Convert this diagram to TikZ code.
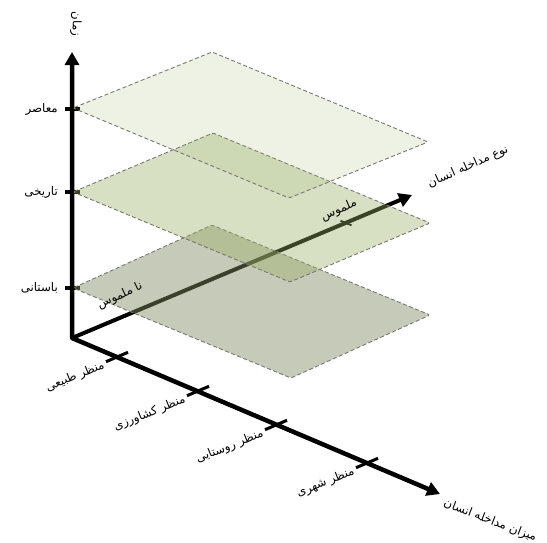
\documentclass[tikz,border=0pt]{standalone}
\usepackage{fontspec}
\newfontfamily\arabicfont[Script=Arabic]{DejaVu Sans}
\TeXXeTstate=1
\usetikzlibrary{arrows.meta,calc}
\definecolor{planegreen}{RGB}{154,175,102}
\definecolor{planegrey}{RGB}{130,140,100}
\definecolor{edgegrey}{RGB}{120,120,115}
\tikzset{bigtip/.tip={Triangle[length=13pt,width=14pt]}}
\begin{document}
\begin{tikzpicture}[x=1pt,y=-1pt,
  axisline/.style={line width=4.5pt, black, line join=round},
  tickv/.style={line width=4pt, black},
  tickb/.style={line width=3pt, black},
  tickd/.style={line width=1.8pt, black},
  plane/.style={draw=edgegrey, dash pattern=on 4pt off 2.5pt, line width=0.9pt, rounded corners=1.5pt},
  lbl/.style={font=\arabicfont\fontsize{11.8}{13}\selectfont, inner sep=0pt, text=black}
]
\useasboundingbox (0,0) rectangle (547,542);
% axes
\coordinate (O) at (72,338);
\coordinate (Z) at (72,52);
\coordinate (D) at (412,195);
\coordinate (X) at (440,494);
\draw[axisline, bigtip-bigtip] (Z) -- (O) -- (X);
\draw[axisline, line width=4pt, -bigtip] (O) -- (D);
% vertical ticks
\coordinate (v1) at (72,109);
\coordinate (v2) at (72,192);
\coordinate (v3) at (72,288);
\foreach \v in {v1,v2,v3} \draw[tickv] ($(\v)+(-7,0)$) -- ($(\v)+(8,0)$);
% bottom axis ticks
\coordinate (b1) at (117,357);
\coordinate (b2) at (198,391);
\coordinate (b3) at (276,425);
\coordinate (b4) at (367,463);
\foreach \b in {b1,b2,b3,b4} \draw[tickb] ($(\b)+(-11,4.7)$) -- ($(\b)+(11,-4.7)$);
% depth axis tick
\coordinate (d1) at (346,223);
\draw[tickd] ($(d1)+(-5.5,-2.3)$) -- ($(d1)+(5.5,2.3)$);
% planes
\coordinate (bL) at (73,288); \coordinate (bT) at (212,225); \coordinate (bR) at (430,315); \coordinate (bB) at (291,378);
\coordinate (mL) at (73,192); \coordinate (mT) at (213,133); \coordinate (mR) at (430,223); \coordinate (mB) at (290,282);
\coordinate (tL) at (73,108); \coordinate (tT) at (212,52); \coordinate (tR) at (428,142); \coordinate (tB) at (289,198);
\draw[plane, fill=planegrey, fill opacity=0.46] (bL) -- (bT) -- (bR) -- (bB) -- cycle;
\draw[plane, fill=planegreen, fill opacity=0.39] (mL) -- (mT) -- (mR) -- (mB) -- cycle;
\draw[plane, fill=planegreen, fill opacity=0.17] (tL) -- (tT) -- (tR) -- (tB) -- cycle;
% vertical labels
\node[lbl, anchor=east] (l1) at (58,109) {\beginR معاصر\endR};
\node[lbl, anchor=east] (l2) at (58,192) {\beginR تاریخی\endR};
\node[lbl, anchor=east] (l3) at (58,288) {\beginR باستانی\endR};
% bottom labels
\node[lbl, rotate=22, anchor=east] (c1) at ($(b1)+(-13,8)$) {\beginR منظر طبیعی\endR};
\node[lbl, rotate=22, anchor=east] (c2) at ($(b2)+(-13,8)$) {\beginR منظر کشاورزی\endR};
\node[lbl, rotate=22, anchor=east] (c3) at ($(b3)+(-13,8)$) {\beginR منظر روستایی\endR};
\node[lbl, rotate=22, anchor=east] (c4) at ($(b4)+(-13,8)$) {\beginR منظر شهری\endR};
% depth labels
\node[lbl, rotate=25] (n1) at (120,296) {\beginR نا ملموس\endR};
\node[lbl, rotate=23] (n2) at (339,210) {\beginR ملموس\endR};
% axis titles
\node[lbl, rotate=-90] (az) at (76,24) {\beginR زمان\endR};
\node[lbl, rotate=24] (ad) at (468,167) {\beginR نوع مداخله انسان\endR};
\node[lbl, rotate=-21, anchor=west] (ax) at (444,503) {\beginR میزان مداخله انسان\endR};
\end{tikzpicture}
\end{document}
